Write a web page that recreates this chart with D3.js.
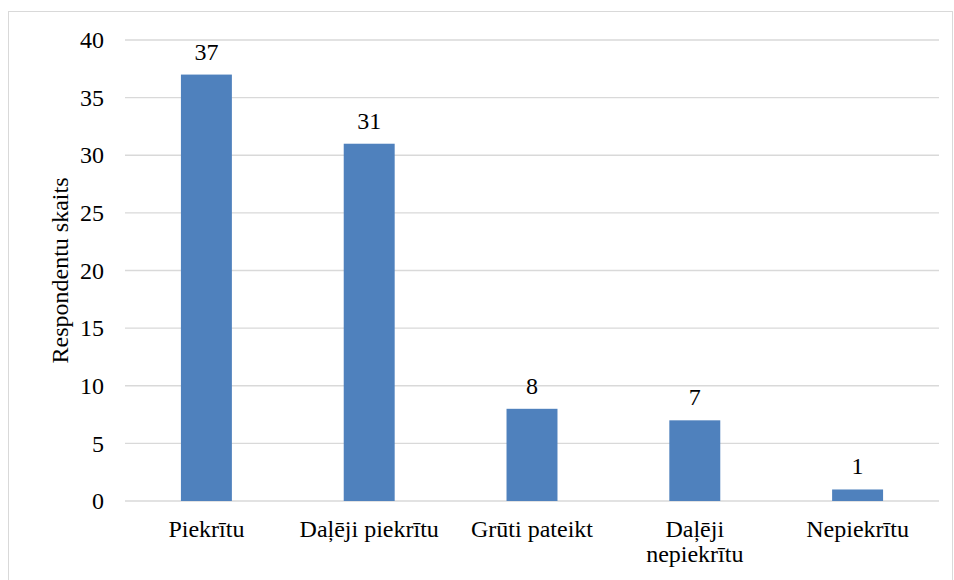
<!DOCTYPE html>
<html>
  <head>
    <meta charset="utf-8">
    <script src="https://d3js.org/d3.v7.min.js"></script>
    <style>
      body { margin: 0; background: #fff; }
      svg text { font-family: "Liberation Serif", "DejaVu Serif", serif !important; fill: #000; }
    </style>
  </head>
  <body>
    <svg width="954" height="580"></svg>
    <script>
      var categories = [["Piekrītu"], ["Daļēji piekrītu"], ["Grūti pateikt"], ["Daļēji", "nepiekrītu"], ["Nepiekrītu"]];
      var values = [37, 31, 8, 7, 1];
      var yTicks = [0, 5, 10, 15, 20, 25, 30, 35, 40];

      var svg = d3.select("svg");

      // outer chart border
      svg.append("rect")
        .attr("x", 8.5).attr("y", 11.5)
        .attr("width", 944).attr("height", 590)
        .attr("fill", "none").attr("stroke", "#d9d9d9");

      var plotLeft = 125, plotRight = 939, plotTop = 40, plotBottom = 501;

      var x = d3.scaleBand()
        .domain(d3.range(values.length))
        .range([plotLeft, plotRight])
        .paddingInner(0.687)
        .paddingOuter(0.3435);

      var y = d3.scaleLinear().domain([0, 40]).range([plotBottom, plotTop]);

      // gridlines
      svg.append("g")
        .selectAll("line")
        .data(yTicks)
        .enter()
        .append("line")
        .attr("x1", plotLeft).attr("x2", plotRight)
        .attr("y1", (d) => y(d)).attr("y2", (d) => y(d))
        .attr("stroke", "#d9d9d9")
        .attr("stroke-width", 1.3);

      // y axis labels
      var yAxis = d3.axisLeft(y).tickValues(yTicks).tickSize(0).tickPadding(21);
      var ya = svg.append("g").attr("transform", "translate(" + plotLeft + ",0)").call(yAxis);
      ya.attr("font-family", null).attr("font-size", null);
      ya.select(".domain").remove();
      ya.selectAll("text").attr("font-size", 24).attr("fill", "#000");

      // bars
      svg.append("g")
        .selectAll("rect")
        .data(values)
        .enter()
        .append("rect")
        .attr("x", (d, i) => x(i))
        .attr("y", (d) => y(d))
        .attr("width", x.bandwidth())
        .attr("height", (d) => y(0) - y(d))
        .attr("fill", "#4f81bd");

      // value labels
      svg.append("g")
        .selectAll("text")
        .data(values)
        .enter()
        .append("text")
        .attr("x", (d, i) => x(i) + x.bandwidth() / 2)
        .attr("y", (d) => y(d) - 15)
        .attr("text-anchor", "middle")
        .attr("font-size", 24)
        .text((d) => d);

      // category labels
      var cl = svg.append("g")
        .selectAll("text")
        .data(categories)
        .enter()
        .append("text")
        .attr("x", (d, i) => x(i) + x.bandwidth() / 2)
        .attr("y", 537)
        .attr("text-anchor", "middle")
        .attr("font-size", 24);
      cl.selectAll("tspan")
        .data((d) => d)
        .enter()
        .append("tspan")
        .attr("x", function () { return this.parentNode.getAttribute("x"); })
        .attr("dy", (d, i) => (i === 0 ? 0 : 25))
        .text((d) => d);

      // y axis title
      svg.append("text")
        .attr("transform", "translate(68," + (plotTop + plotBottom) / 2 + ") rotate(-90)")
        .attr("text-anchor", "middle")
        .attr("font-size", 24)
        .text("Respondentu skaits");
    </script>
  </body>
</html>
